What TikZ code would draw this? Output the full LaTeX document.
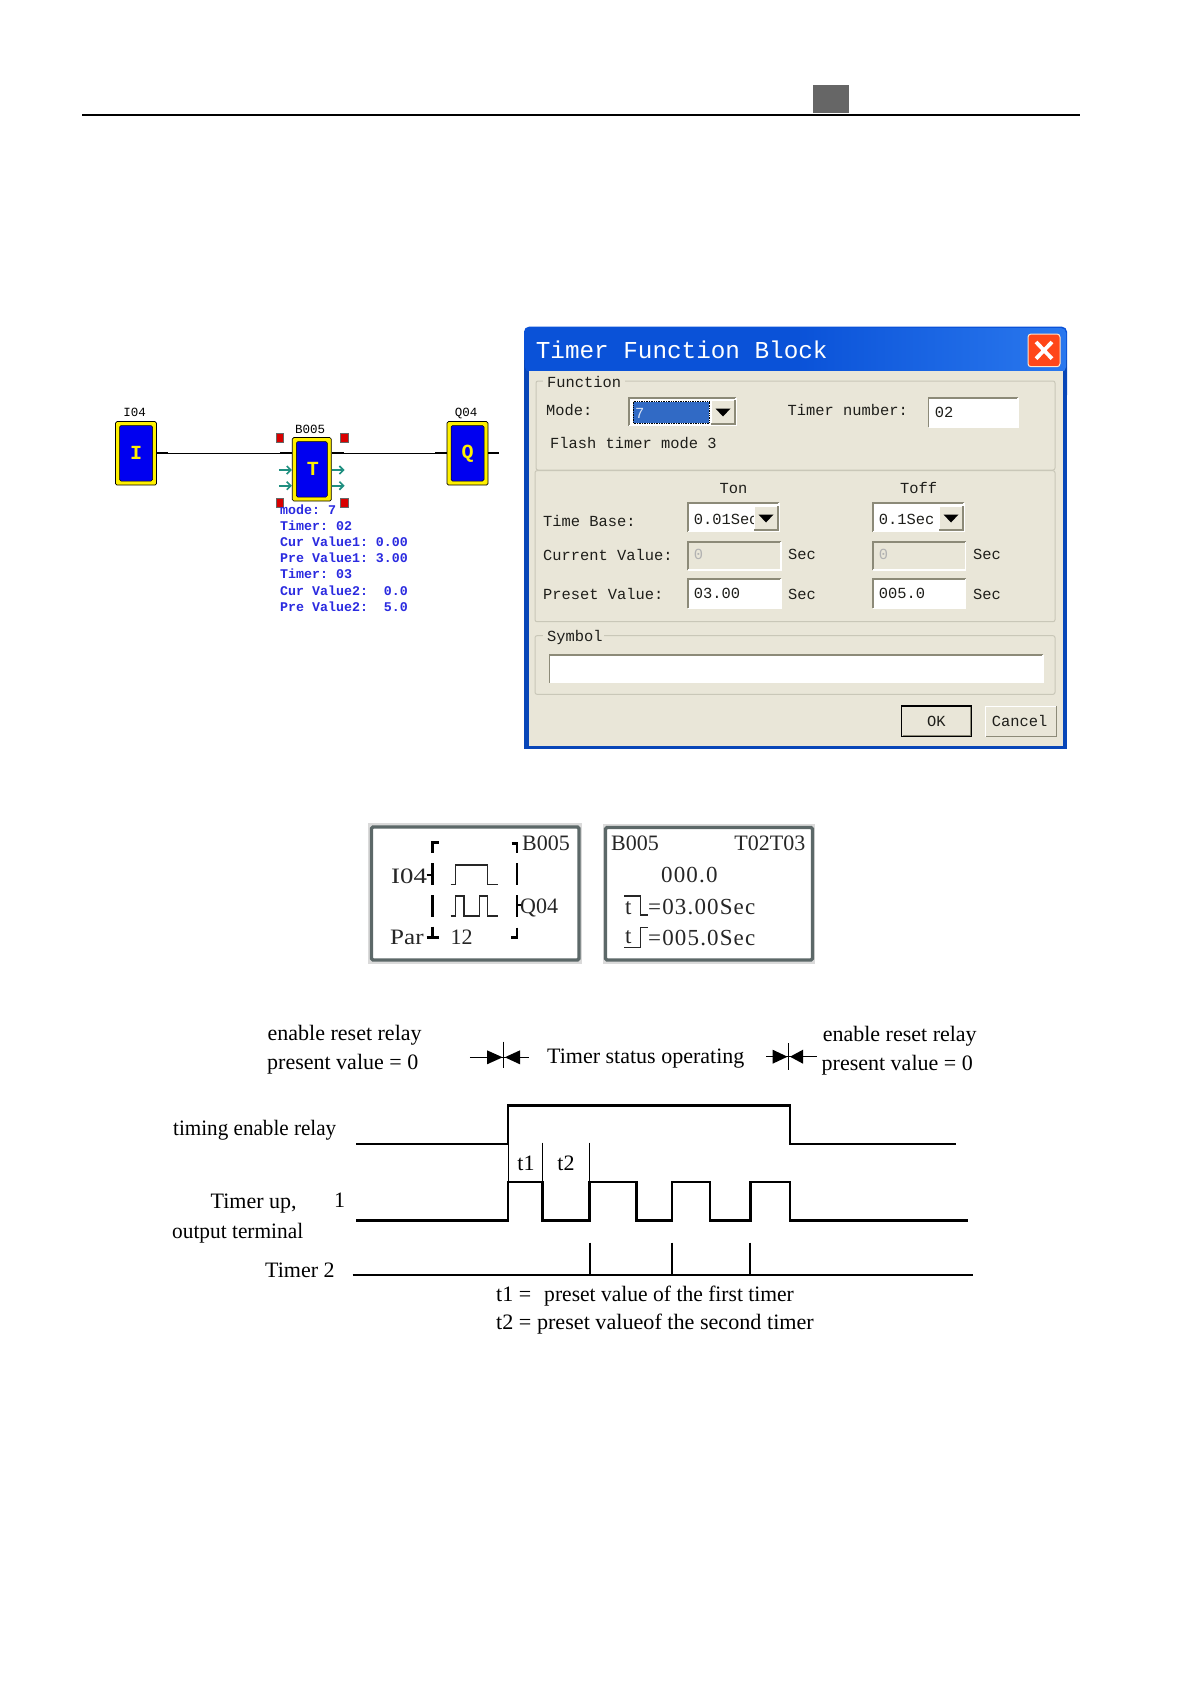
\documentclass[tikz,border=0pt]{standalone}
\usepackage{fontspec}
\setmainfont{Liberation Serif}
\newfontfamily\monof{Liberation Mono}
\newfontfamily\lcdf[LetterSpace=5]{Liberation Serif}
\newfontfamily\lcdtag{Liberation Serif}
\usetikzlibrary{arrows.meta,calc}
\definecolor{face}{HTML}{E9E6D8}
\definecolor{edge}{HTML}{8C8A78}
\definecolor{groupl}{HTML}{C9C7B8}
\definecolor{xpblue}{HTML}{0A52D8}
\definecolor{xplight}{HTML}{2A78EE}
\definecolor{hilite}{HTML}{316AC5}
\definecolor{inkd}{HTML}{1E1E1A}
\definecolor{blockblue}{HTML}{0000F0}
\definecolor{blockyellow}{HTML}{FFF000}
\definecolor{teal1}{HTML}{1F8F80}
\definecolor{infoblue}{HTML}{2A2AE0}
\definecolor{lcdedge}{HTML}{5C6868}
\definecolor{lcdout}{HTML}{DADADA}
\newcommand{\sunkbox}[5]{%
  \fill[#5] (#1,#2) rectangle (#3,#4);
  \draw[edge,line width=1.6pt] (#1,#4) -- (#1,#2) -- (#3,#2);
  \draw[white,line width=1.2pt] (#1,#4) -- (#3,#4) -- (#3,#2);
}
\newcommand{\dropbtn}[4]{%
  \fill[face] (#1,#2) rectangle (#3,#4);
  \draw[white,line width=1pt] (#1,#4) -- (#1,#2) -- (#3,#2);
  \draw[edge,line width=1.4pt] (#1,#4) -- (#3,#4) -- (#3,#2);
  \fill[black] ($(#1,#2)!.5!(#3,#4)+(-7.5,-3.5)$) -- ++(15,0) -- ++(-7.5,8) -- cycle;
}
\newcommand{\groupbox}[4]{%
  \draw[groupl,line width=1pt,rounded corners=2pt] (#1,#2) rectangle (#3,#4);
}
\tikzset{
  block/.style={draw=black,line width=.7pt,fill=blockyellow,rounded corners=1.5pt,minimum height=63.5pt,inner sep=0pt,path picture={\fill[blockblue,rounded corners=1.5pt,draw=black,line width=.5pt] ([xshift=4pt,yshift=4pt]path picture bounding box.south west) rectangle ([xshift=-4pt,yshift=-4pt]path picture bounding box.north east);}},
  blocklabel/.style={text=blockyellow,font=\monof\bfseries\fontsize{20}{20}\selectfont,inner sep=0pt},
  tag/.style={font=\monof\fontsize{12.5}{14}\selectfont,text=black,inner sep=0pt},
  info/.style={font=\monof\bfseries\fontsize{13.3}{15}\selectfont,text=infoblue,inner sep=0pt,anchor=mid west,yshift=-2pt},
  stub/.style={line width=1.8pt,black},
  wire/.style={line width=.9pt,black},
  pinarrow/.style={teal1,line width=1.7pt,-{Straight Barb[length=4pt,width=8pt]}},
  handle/.style={draw=black!60,fill=red!85!black,line width=.4pt,minimum width=7.5pt,minimum height=8.5pt,inner sep=0pt},
  dlg/.style={font=\monof\fontsize{15.4}{18}\selectfont,text=inkd,inner sep=0pt,anchor=mid west,yshift=-2.8pt},
  dlgc/.style={dlg,anchor=mid},
  lcd/.style={font=\lcdf\fontsize{23}{25}\selectfont,text=black!85,inner sep=0pt,anchor=mid west,yshift=-4pt},
  lcdt/.style={lcd,font=\lcdtag\fontsize{22}{25}\selectfont},
  lcdbar/.style={black,line width=2.6pt},
  lcdwave/.style={black!85,line width=1.1pt},
  lab/.style={font=\fontsize{22}{25}\selectfont,text=black,inner sep=0pt,anchor=mid west,yshift=-5.4pt},
  sig/.style={black,line width=2.6pt,line join=miter},
  thinv/.style={black,line width=1pt},
  pulse/.style={black,line width=1.8pt},
  ivmark/.style={black,line width=1.1pt},
}
\begin{document}
\begin{tikzpicture}[x=1pt,y=-1pt]
\useasboundingbox (0,0) rectangle (1191,1684);
\fill[white] (0,0) rectangle (1191,1684);
% header
\draw[black,line width=2pt] (82.3,114.7) -- (1079.6,114.7);
\fill[black!60] (813,85) rectangle (849,113);

% function block diagram
\node[block,minimum width=41pt] (I) at (136,453.3) {};
\node[blocklabel] (Il) at (I.center) {I};
\node[block,minimum width=39pt] (T) at (311.8,469.3) {};
\node[blocklabel] (Tl) at ([xshift=1pt]T.center) {T};
\node[block,minimum width=41pt] (Q) at (467.5,453.3) {};
\node[blocklabel] (Ql) at (Q.center) {Q};
\node[tag] (I04) at (134.7,412) {I04};
\node[tag] (B005) at (310,429.3) {B005};
\node[tag] (Q04) at (466,413) {Q04};
\coordinate (tin) at (T.west |- I.east);
\coordinate (tout) at (T.east |- I.east);
\draw[wire] (I.east) -- (tin);
\draw[wire] (tout) -- (Q.west);
\draw[stub] (I.east) -- ++(11,0);
\draw[stub] (tin) -- ++(-12,0);
\draw[stub] (tout) -- ++(12,0);
\draw[stub] (Q.west) -- ++(-12,0);
\draw[stub] (Q.east) -- ++(11,0);
\foreach \yy in {470,485.7}{
  \coordinate (al) at (T.west |- 0,\yy);
  \coordinate (ar) at (T.east |- 0,\yy);
  \draw[pinarrow] ($(al)+(-13,0)$) -- (al);
  \draw[pinarrow] (ar) -- ($(ar)+(13,0)$);
}
\node[handle] (h1) at (279.5,437.8) {};
\node[handle] (h2) at (344,437.8) {};
\node[handle] (h3) at (279.5,502.5) {};
\node[handle] (h4) at (344,502.5) {};
\node[info] (i1) at (280,510) {mode:\ 7};
\node[info] (i2) at (280,526) {Timer:\ 02};
\node[info] (i3) at (280,542) {Cur Value1:\ 0.00};
\node[info] (i4) at (280,558.3) {Pre Value1:\ 3.00};
\node[info] (i5) at (280,574.3) {Timer:\ 03};
\node[info] (i6) at (280,590.7) {Cur Value2:\ \ 0.0};
\node[info] (i7) at (280,606.7) {Pre Value2:\ \ 5.0};

% dialog
\fill[xpblue,rounded corners=5pt] (524,326.7) rectangle (1067,400);
\fill[xpblue!85!black] (524,360) rectangle (1067,749);
\shade[left color=xpblue,right color=xplight,middle color=xpblue,rounded corners=5pt] (525,328) rectangle (1066,372);
\fill[face] (528.5,370.7) rectangle (1062.5,745.5);
\node[font=\monof\fontsize{24.3}{26}\selectfont,text=white,inner sep=0pt,anchor=mid west] (title) at (535.7,356) {Timer Function Block};
\fill[red!60!orange!90!white,draw=white!80!orange,line width=1pt,rounded corners=3pt] (1028,334) rectangle (1060,366.7);
\draw[white,line width=3.8pt] (1036,342) -- (1052,358.7) (1052,342) -- (1036,358.7);
% groups
\groupbox{536}{381}{1055}{470}
\groupbox{535}{470.7}{1055}{621.7}
\groupbox{535}{635.7}{1055}{694.3}
\fill[face] (543,376) rectangle (625,388);
\fill[face] (543,630) rectangle (604,642);
\node[dlg] (gf) at (547,382.3) {Function};
\node[dlg] (gs) at (547,636.7) {Symbol};
% function row
\node[dlg] (mode) at (546,410.7) {Mode:};
\sunkbox{629}{397.7}{736}{425.7}{white}
\fill[hilite] (633,401.7) rectangle (709,423.3);
\draw[black,densely dotted,line width=.7pt] (633,401.7) rectangle (709,423.3);
\node[dlg,text=white!80!hilite] (mv) at (635,413) {7};
\dropbtn{711}{400}{735}{424}
\node[dlg] (tn) at (787.5,410.7) {Timer number:};
\sunkbox{928.6}{397.7}{1018}{427.3}{white}
\node[dlg] (tnv) at (934.6,412) {02};
\node[dlg] (flash) at (550,443.3) {Flash timer mode 3};
% timing rows
\node[dlgc] (ton) at (733.6,488.3) {Ton};
\node[dlgc] (toff) at (918.6,488.3) {Toff};
\node[dlg] (tb) at (543,521) {Time Base:};
\sunkbox{688}{503}{779}{531.7}{white}
\node[dlg] (tbv1) at (693.6,519.3) {0.01Sec};
\dropbtn{754}{506}{778}{530}
\sunkbox{873}{503}{964}{531.7}{white}
\node[dlg] (tbv2) at (878.6,519.3) {0.1Sec};
\dropbtn{939}{506}{963}{530}
\node[dlg] (cv) at (543,555.7) {Current Value:};
\sunkbox{688}{541.7}{781}{570}{face}
\node[dlg,text=black!30] (cv1) at (693.6,554.5) {0};
\node[dlg] (s1) at (788,554) {Sec};
\sunkbox{873}{541.7}{965.7}{570}{face}
\node[dlg,text=black!30] (cv2) at (878.6,554.5) {0};
\node[dlg] (s2) at (973,554) {Sec};
\node[dlg] (pv) at (543,594.3) {Preset Value:};
\sunkbox{688}{579}{781}{608.3}{white}
\node[dlg] (pv1) at (693.6,593.3) {03.00};
\node[dlg] (s3) at (788,594.3) {Sec};
\sunkbox{873}{579}{965.7}{608.3}{white}
\node[dlg] (pv2) at (878.6,593.3) {005.0};
\node[dlg] (s4) at (973,594.3) {Sec};
\sunkbox{549.6}{655}{1043}{682.7}{white}
% buttons
\draw[black,line width=1.2pt,fill=face] (901.4,706) rectangle (971.4,736.7);
\draw[edge,line width=1pt] (902.6,735.4) -- (970.2,735.4) -- (970.2,707.2);
\node[dlgc] (ok) at (936.4,721) {OK};
\fill[face] (985.7,706) rectangle (1056.4,736.7);
\draw[white,line width=1pt] (985.7,736.7) -- (985.7,706) -- (1056.4,706);
\draw[edge,line width=1.2pt] (985.7,736.7) -- (1056.4,736.7) -- (1056.4,706);
\node[dlgc] (cancel) at (1019.6,721) {Cancel};

% LCD panels
\draw[lcdout,line width=1pt,fill=lcdout] (368.3,823.3) rectangle (581.7,963.3);
\draw[lcdedge,line width=3.4pt,fill=white,rounded corners=1.5pt] (371.5,827) rectangle (579,960);
\draw[lcdout,line width=1pt,fill=lcdout] (603,824) rectangle (814.5,963);
\draw[lcdedge,line width=3.4pt,fill=white,rounded corners=1.5pt] (605.5,827.5) rectangle (812.5,960);
\begin{scope}[shift={(360,815)},x=.3333pt,y=-.3333pt]
 \draw[lcdbar] (236,83) -- (218,83) -- (218,115);
 \draw[lcdbar] (218,145) -- (218,210) (200,180) -- (218,180);
 \draw[lcdbar] (218,240) -- (218,305);
 \draw[lcdbar] (218,335) -- (218,367) (200,367) -- (236,367);
 \draw[lcdbar] (455,85) -- (471,85) -- (471,115);
 \draw[lcdbar] (471,145) -- (471,210);
 \draw[lcdbar] (471,240) -- (471,305) (471,270) -- (490,270);
 \draw[lcdbar] (471,338) -- (471,368) -- (453,368);
 \draw[lcdwave] (272,208) -- (287,208) -- (287,150) -- (383,150) -- (383,208) -- (415,208);
 \draw[lcdwave] (272,303) -- (287,303) -- (287,243) -- (312,243) -- (312,303) -- (358,303) -- (358,243) -- (383,243) -- (383,303) -- (415,303);
 \draw[lcdwave] (793,243) -- (842,243) -- (842,300) -- (865,300);
 \draw[lcdwave] (793,397) -- (842,397) -- (842,338) -- (865,338);
\end{scope}
\node[lcdt] (l1) at (522,844) {B005};
\node[lcdt] (l2) at (391,877) {\scalebox{1.22}[1]{I04}};
\node[lcdt] (l3) at (520,907) {Q04};
\node[lcdt] (l4) at (390,938) {\scalebox{1.14}[1]{Par}};
\node[lcdt] (l5) at (450.5,938) {12};
\node[lcdt] (r1) at (611,844) {B005};
\node[lcdt,anchor=mid east] (r2) at (805.5,844) {T02T03};
\node[lcd] (r3) at (661,876) {000.0};
\node[lcd] (r4) at (625,908) {t};
\node[lcd] (r5) at (648,908) {=03.00Sec};
\node[lcd] (r6) at (625,937) {t};
\node[lcd] (r7) at (648,939) {=005.0Sec};

% timing diagram
\draw[sig] (356,1144) -- (508,1144) -- (508,1105.7) -- (790,1105.7) -- (790,1144) -- (955.5,1144);
\draw[sig] (356,1220.7) -- (508,1220.7) -- (508,1182) -- (542.6,1182) -- (542.6,1220.7) -- (589.6,1220.7) -- (589.6,1182) -- (636.7,1182) -- (636.7,1220.7) -- (672,1220.7) -- (672,1182) -- (710,1182) -- (710,1220.7) -- (750.3,1220.7) -- (750.3,1182) -- (790,1182) -- (790,1220.7) -- (967.5,1220.7);
\draw[thinv] (508,1144) -- (508,1182);
\draw[thinv] (542.6,1142.7) -- (542.6,1182);
\draw[thinv] (589.6,1142.7) -- (589.6,1182);
\draw[sig] (352.5,1275) -- (973,1275);
\draw[pulse] (589.6,1242.7) -- (589.6,1275);
\draw[pulse] (672,1242.7) -- (672,1275);
\draw[pulse] (750,1242.7) -- (750,1275);
% interval marks
\draw[ivmark] (469.8,1057.3) -- (529,1057.3);
\draw[ivmark] (503.5,1041.7) -- (503.5,1068);
\fill[black] (487,1050.3) -- (502.6,1057.3) -- (487,1064.3) -- cycle;
\fill[black] (520,1050.3) -- (504.8,1057.3) -- (520,1064.3) -- cycle;
\draw[ivmark] (766,1056.7) -- (817,1056.7);
\draw[ivmark] (788.7,1043) -- (788.7,1070);
\fill[black] (772.6,1049.7) -- (787.5,1056.7) -- (772.6,1063.7) -- cycle;
\fill[black] (803,1049.7) -- (790,1056.7) -- (803,1063.7) -- cycle;
% labels
\node[lab] (a1) at (267.5,1033) {enable reset relay};
\node[lab] (a2) at (267,1062) {present value = 0};
\node[lab] (a3) at (547,1056) {Timer status operating};
\node[lab] (a4) at (822.6,1034) {enable reset relay};
\node[lab] (a5) at (821.5,1063) {present value = 0};
\node[lab] (b1) at (173,1128) {\scalebox{.96}[1]{timing enable relay}};
\node[lab] (b2) at (210.5,1200.7) {Timer up,};
\node[lab] (b3) at (334,1200) {1};
\node[lab] (b4) at (172,1231) {\scalebox{.97}[1]{output terminal}};
\node[lab] (b5) at (265,1269.5) {Timer 2};
\node[lab,anchor=mid] (c1) at (526,1162.7) {t1};
\node[lab,anchor=mid] (c2) at (566,1162.7) {t2};
\node[lab] (d1) at (496,1293.3) {t1 =\ \ \hspace{2pt}\scalebox{.98}[1]{preset value of the first timer}};
\node[lab] (d2) at (496,1321.7) {\scalebox{1.007}[1]{t2 = preset valueof the second timer}};
\end{tikzpicture}
\end{document}
